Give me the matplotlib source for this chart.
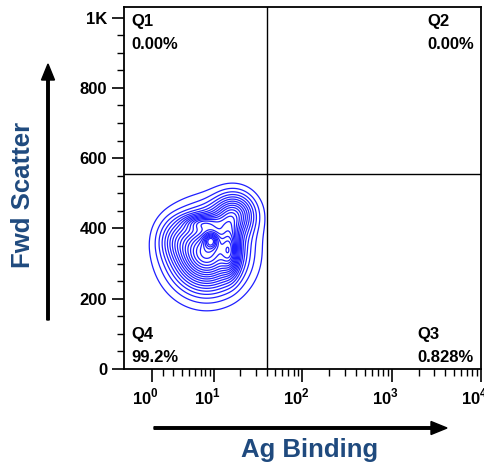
import numpy as np
import matplotlib
matplotlib.use("Agg")
import matplotlib.pyplot as plt
from matplotlib.ticker import FixedLocator, NullFormatter
from matplotlib.transforms import ScaledTranslation

plt.rcParams["font.family"] = ["Liberation Sans", "DejaVu Sans"]
plt.rcParams["mathtext.fontset"] = "custom"
plt.rcParams["mathtext.bf"] = "Liberation Sans:bold"
plt.rcParams["mathtext.rm"] = "Liberation Sans:bold"

# quadrant gates and percentages
gate_x = 40.0
gate_y = 554.0
quad_names = ["Q1", "Q2", "Q3", "Q4"]
quad_pcts = ["0.00%", "0.00%", "0.828%", "99.2%"]

# population blobs (Ag binding, Fwd scatter)
blob_x = [8.3, 17.2, 9.3, 15.6, 7.1, 3.1]
blob_y = [332, 440, 366, 337, 417, 372]
blob_su = [0.58, 0.35, 0.12, 0.15, 0.30, 0.30]   # spread in asinh units
blob_sy = [68, 40, 15, 45, 15, 40]
blob_w = [1.0, 0.5, 0.35, 0.35, 0.25, 0.15]

x_major = [1, 10, 100, 1000, 10000]
x_labels = [r"$\mathbf{10}^{\mathbf{%d}}$" % i for i in range(5)]
y_major = [0, 200, 400, 600, 800, 1000]
y_labels = ["0", "200", "400", "600", "800", "1K"]

A = 3.0  # asinh linear width

fig = plt.figure(figsize=(4.84, 4.66), dpi=100)
ax = fig.add_axes([124 / 484, 1 - 369 / 466, 357 / 484, 362 / 466])
ax.set_xscale("asinh", linear_width=A)

# density grid in asinh coordinates
u = np.linspace(np.arcsinh(-1.2 / A), np.arcsinh(1e4 / A), 500)
yy = np.linspace(0, 1030, 500)
U, Y = np.meshgrid(u, yy)
Z = np.zeros_like(U)
for bx, by, su, sy, w in zip(blob_x, blob_y, blob_su, blob_sy, blob_w):
    bu = np.arcsinh(bx / A)
    Z += w * np.exp(-0.5 * (((U - bu) / su) ** 2 + ((Y - by) / sy) ** 2))
levels = Z.max() * np.linspace(0.04, 0.95, 22)
ax.contour(A * np.sinh(U), Y, Z, levels=levels, colors="#1f1fff", linewidths=0.9)

ax.axvline(gate_x, color="black", lw=1)
ax.axhline(gate_y, color="black", lw=1)

ax.set_xlim(-1.2, 1e4)
ax.set_ylim(0, 1030)

minor = [m * 10 ** d for d in range(4) for m in range(2, 10)]
ax.xaxis.set_major_locator(FixedLocator(x_major))
ax.xaxis.set_minor_locator(FixedLocator(minor))
ax.set_xticklabels(x_labels)
ax.xaxis.set_minor_formatter(NullFormatter())
ax.set_yticks(y_major)
ax.set_yticklabels(y_labels)
ax.yaxis.set_minor_locator(FixedLocator(np.arange(50, 1001, 50)))

ax.tick_params(which="major", length=9, width=1.2, labelsize=12, pad=3)
ax.tick_params(which="minor", length=5, width=1.0)
ax.tick_params(axis="x", which="major", pad=4, labelsize=12)
for lab in ax.get_yticklabels():
    lab.set_fontweight("bold")
shift = ScaledTranslation(-6 / 100, 0, fig.dpi_scale_trans)
for lab in ax.get_xticklabels():
    lab.set_transform(lab.get_transform() + shift)
for sp in ax.spines.values():
    sp.set_linewidth(1.3)

# quadrant texts
kw = dict(transform=ax.transAxes, fontsize=12, fontweight="bold")
ax.text(0.02, 0.982, quad_names[0] + "\n" + quad_pcts[0], va="top", ha="left",
        multialignment="left", linespacing=1.7, **kw)
ax.text(0.98, 0.982, quad_names[1] + "\n" + quad_pcts[1], va="top", ha="right",
        multialignment="left", linespacing=1.7, **kw)
ax.text(0.98, 0.01, quad_names[2] + "\n" + quad_pcts[2], va="bottom", ha="right",
        multialignment="left", linespacing=1.7, **kw)
ax.text(0.02, 0.01, quad_names[3] + "\n" + quad_pcts[3], va="bottom", ha="left",
        multialignment="left", linespacing=1.7, **kw)

# axis titles with arrows
blue = "#1f4a7e"
fig.text(310 / 484, 1 - 450 / 466, "Ag Binding", ha="center", va="center",
         fontsize=18.5, fontweight="bold", color=blue)
fig.text(23 / 484, 1 - 195 / 466, "Fwd Scatter", ha="center", va="center",
         rotation=90, fontsize=18.5, fontweight="bold", color=blue)
fig.add_artist(matplotlib.patches.FancyArrow(
    154 / 484, 1 - 428 / 466, 293 / 484 - 16 / 484, 0, width=2.5 / 466,
    head_width=13 / 466, head_length=16 / 484, length_includes_head=False,
    color="black", transform=fig.transFigure))
fig.add_artist(matplotlib.patches.FancyArrow(
    48 / 484, 1 - 320 / 466, 0, 256 / 466 - 16 / 466, width=2.5 / 484,
    head_width=13 / 484, head_length=16 / 466, length_includes_head=False,
    color="black", transform=fig.transFigure))

fig.savefig("out.png", dpi=100)
